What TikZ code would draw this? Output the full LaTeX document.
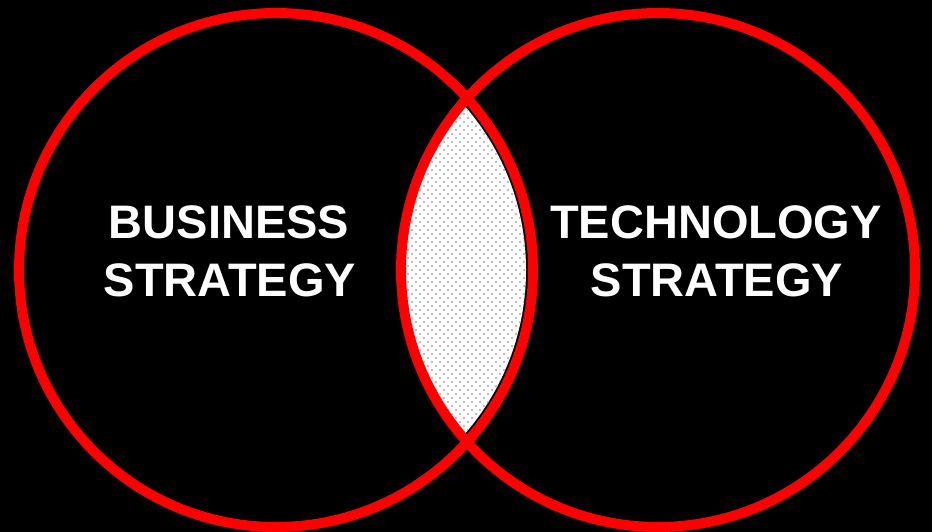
\documentclass[tikz,border=0pt]{standalone}
\usepackage{fontspec}
\setmainfont{Liberation Sans}
\begin{document}
\begin{tikzpicture}[x=1pt,y=-1pt,
  ring/.style={draw=red,line width=10pt},
  label/.style={text=white,font=\fontsize{47}{58}\selectfont\bfseries,anchor=base,inner sep=0pt},
  dot/.style={fill=dotgray,draw=none}]
\definecolor{dotgray}{HTML}{ACA4A4}
\fill[black] (0,0) rectangle (932,532);
\useasboundingbox (0,0) rectangle (932,532);
\coordinate (cl) at (276,270);
\coordinate (cr) at (658,270);
% lens fill
\begin{scope}
  \clip (cl) circle[radius=250];
  \clip (cr) circle[radius=257];
  \fill[white] (380,80) rectangle (560,460);
  \foreach \j in {0,...,90}{
    \pgfmathsetmacro{\yy}{90+4*\j}
    \pgfmathsetmacro{\off}{4*mod(\j,2)}
    \foreach \i in {0,...,19}{
      \fill[dot] ({392+8*\i+\off},\yy) circle[radius=1.1];
    }
  }
\end{scope}
\node[ring,circle,minimum size=514pt,inner sep=0pt] (L) at (cl) {};
\node[ring,circle,minimum size=514pt,inner sep=0pt] (R) at (cr) {};
\node[label] (b1) at (229,238) {BUSINESS};
\node[label] (b2) at (230,296) {STRATEGY};
\node[label] (t1) at (716,238) {TECHNOLOGY};
\node[label] (t2) at (717,296) {STRATEGY};
\end{tikzpicture}
\end{document}
